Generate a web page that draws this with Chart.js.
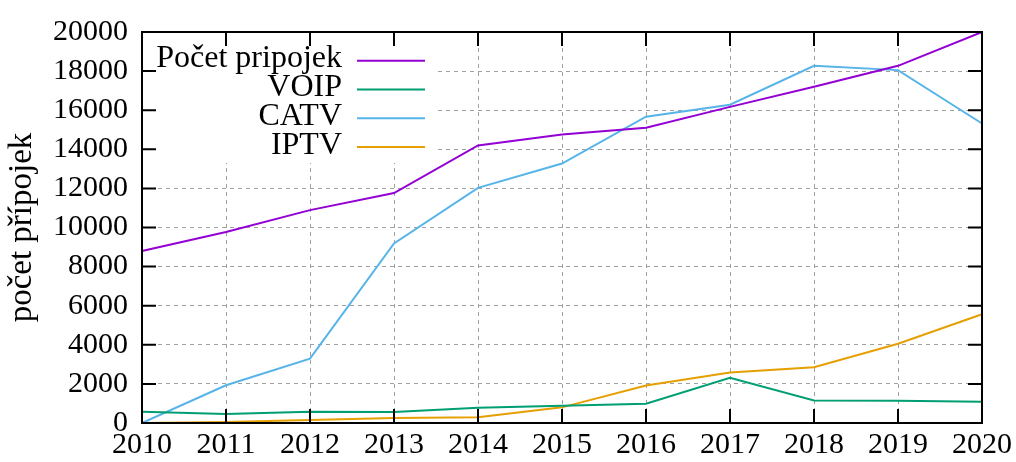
<!DOCTYPE html>
<html>
<head>
<meta charset="utf-8">
<script src="https://cdn.jsdelivr.net/npm/chart.js@4"></script>
<style>
  html, body { margin: 0; padding: 0; background: #fff; }
  #wrap { width: 1016px; height: 462px; }
</style>
</head>
<body>
<div id="wrap"><canvas id="chart" width="1016" height="462"></canvas></div>
<script>
// data
const years = [2010, 2011, 2012, 2013, 2014, 2015, 2016, 2017, 2018, 2019, 2020];
const pocet = [8800, 9770, 10890, 11760, 14200, 14760, 15100, 16170, 17200, 18270, 20000];
const voip  = [575, 460, 575, 565, 780, 880, 985, 2310, 1150, 1140, 1085];
const catv  = [0, 1930, 3290, 9180, 12030, 13270, 15670, 16280, 18270, 18050, 15320];
const iptv  = [0, 50, 150, 255, 290, 800, 1915, 2580, 2850, 4055, 5560];
const seriesNames = ['Počet pripojek', 'VOIP', 'CATV', 'IPTV'];
const colors = ['#9400d3', '#009e73', '#56b4e9', '#e69f00'];
const yTitle = 'počet přípojek';

const FONT = "'Liberation Serif', 'DejaVu Serif', serif";

// gnuplot-like frame, inward ticks, opaque key and y title
const gnuplotBits = {
  id: 'gnuplotBits',
  beforeDatasetsDraw(chart) {
    const ctx = chart.ctx, a = chart.chartArea;
    ctx.save();
    ctx.fillStyle = '#fff';
    ctx.fillRect(a.left, a.top, 296, 131);
    ctx.restore();
  },
  afterDatasetsDraw(chart) {
    const ctx = chart.ctx, a = chart.chartArea;
    const xs = chart.scales.x, ys = chart.scales.y;
    ctx.save();
    ctx.strokeStyle = '#000';
    ctx.lineWidth = 2;
    ctx.beginPath();
    xs.ticks.forEach((t, i) => {
      const x = xs.getPixelForTick(i);
      ctx.moveTo(x, a.bottom); ctx.lineTo(x, a.bottom - 14);
      ctx.moveTo(x, a.top); ctx.lineTo(x, a.top + 14);
    });
    ys.ticks.forEach((t, i) => {
      const y = ys.getPixelForTick(i);
      ctx.moveTo(a.left, y); ctx.lineTo(a.left + 14, y);
      ctx.moveTo(a.right, y); ctx.lineTo(a.right - 14, y);
    });
    ctx.stroke();
    ctx.strokeRect(a.left, a.top, a.right - a.left, a.bottom - a.top);

    // key
    ctx.font = '32px ' + FONT;
    ctx.fillStyle = '#000';
    ctx.textAlign = 'right';
    ctx.textBaseline = 'alphabetic';
    seriesNames.forEach((name, i) => {
      const y = a.top + 28.7 + i * 28.8;
      ctx.fillText(name, a.left + 200, y + 6.5);
      ctx.strokeStyle = colors[i];
      ctx.lineWidth = 2;
      ctx.beginPath();
      ctx.moveTo(a.left + 215, y);
      ctx.lineTo(a.left + 283, y);
      ctx.stroke();
    });

    // y title
    ctx.font = '33px ' + FONT;
    ctx.translate(31, (a.top + a.bottom) / 2);
    ctx.rotate(-Math.PI / 2);
    ctx.textAlign = 'center';
    ctx.fillStyle = '#000';
    ctx.fillText(yTitle, 0, 0);
    ctx.restore();
  }
};

const data = [pocet, voip, catv, iptv];

new Chart(document.getElementById('chart'), {
  type: 'line',
  data: {
    labels: years,
    datasets: seriesNames.map((name, i) => ({
      label: name,
      data: data[i],
      borderColor: colors[i],
      borderWidth: 2,
      pointRadius: 0,
      tension: 0,
      fill: false
    }))
  },
  options: {
    responsive: false,
    animation: false,
    layout: { padding: { left: 0, right: 33, top: 30, bottom: 0 } },
    plugins: { legend: { display: false }, tooltip: { enabled: false } },
    scales: {
      x: {
        type: 'category',
        offset: false,
        afterFit(scale) { scale.height = 39; },
        grid: { color: '#a0a0a0', lineWidth: 1, drawTicks: false },
        border: { display: false, dash: [4, 4] },
        ticks: { color: '#000', font: { family: FONT, size: 30 }, padding: 4, maxRotation: 0, autoSkip: false }
      },
      y: {
        min: 0,
        max: 20000,
        afterFit(scale) { scale.width = 142; },
        grid: { color: '#a0a0a0', lineWidth: 1, drawTicks: false },
        border: { display: false, dash: [4, 4] },
        ticks: {
          stepSize: 2000,
          color: '#000',
          font: { family: FONT, size: 30 },
          padding: 14,
          callback: v => String(v)
        }
      }
    }
  },
  plugins: [gnuplotBits]
});
</script>
</body>
</html>
